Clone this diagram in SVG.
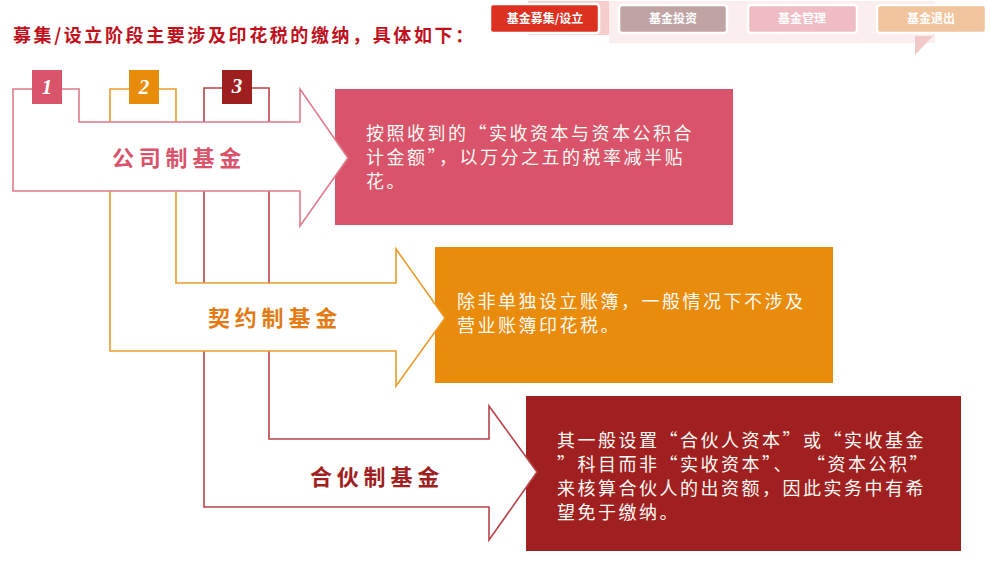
<svg xmlns="http://www.w3.org/2000/svg" width="990" height="575" viewBox="0 0 990 575">
<defs>
<style>
.nav{font-family:"Noto Sans CJK SC",sans-serif;font-size:12px;font-weight:700;fill:#ffffff;text-anchor:middle;}
.navbtn{stroke:#ffffff;stroke-width:2.5;}
.body{font-family:"Noto Sans CJK SC",sans-serif;font-size:18px;fill:#fffaf4;letter-spacing:2.5px;}
.label{font-family:"Noto Sans CJK SC",sans-serif;font-size:22px;font-weight:700;letter-spacing:4.8px;}
.arrow{fill:#ffffff;stroke-width:1.6;}
.num{font-family:"Liberation Serif",serif;font-size:21px;font-weight:700;font-style:italic;fill:#ffffff;text-anchor:middle;}
</style>
</defs>
<rect width="990" height="575" fill="#ffffff"/>

<!-- top navigation -->
<g id="nav">
<rect x="609" y="1" width="326" height="42" fill="#fbeeee"/>
<rect x="528" y="1" width="81" height="34" fill="#f4cccc"/>
<polygon points="915,36 933,36 915,55" fill="#f2c8c8"/>
<rect class="navbtn" x="490" y="4" width="109" height="29" rx="3" fill="#dc3020"/>
<text class="nav" x="545" y="23">基金募集/设立</text>
<rect class="navbtn" x="619" y="5" width="108" height="28" rx="3" fill="#c0a4a4"/>
<text class="nav" x="673" y="23">基金投资</text>
<rect class="navbtn" x="748" y="5" width="109" height="28" rx="3" fill="#f0bcc4"/>
<text class="nav" x="802" y="23">基金管理</text>
<rect class="navbtn" x="877" y="5" width="109" height="28" rx="3" fill="#f0c49c"/>
<text class="nav" x="931" y="23">基金退出</text>
</g>

<text id="title" x="13" y="42" font-family="Noto Sans CJK SC, sans-serif" font-size="18" font-weight="700" fill="#c0101c" letter-spacing="2.6">募集/设立阶段主要涉及印花税的缴纳，具体如下：</text>

<!-- description boxes -->
<g id="desc1">
<rect x="335" y="89" width="398" height="136" fill="#d9536b"/>
<text class="body" x="366" y="140">按照收到的“实收资本与资本公积合</text>
<text class="body" x="366" y="164">计金额”，以万分之五的税率减半贴</text>
<text class="body" x="366" y="188">花。</text>
</g>
<g id="desc2">
<rect x="435" y="247" width="398" height="136" fill="#e98b0b"/>
<text class="body" x="457" y="308">除非单独设立账簿，一般情况下不涉及</text>
<text class="body" x="457" y="332">营业账簿印花税。</text>
</g>
<g id="desc3">
<rect x="526" y="396" width="435" height="155" fill="#a01f20"/>
<text class="body" x="557" y="447">其一般设置“合伙人资本”或“实收基金</text>
<text class="body" x="557" y="471">”科目而非“实收资本”、</text>
<text class="body" x="807" y="471">“资本公积”</text>
<text class="body" x="557" y="495">来核算合伙人的出资额，因此实务中有希</text>
<text class="body" x="557" y="519">望免于缴纳。</text>
</g>

<!-- arrows -->
<g id="arrow3">
<path class="arrow" stroke="#b8434a" d="M204,88 H269 V439 H489 V406 L537,472 L489,540 V507 H204 Z"/>
<text class="label" x="310" y="485" fill="#a01f20">合伙制基金</text>
</g>
<g id="arrow2">
<path class="arrow" stroke="#ec9a2a" d="M110,89 H176 V283 H396 V249 L445,318 L396,386 V351 H110 Z"/>
<text class="label" x="208" y="326" fill="#e47a12">契约制基金</text>
</g>
<g id="arrow1">
<path class="arrow" stroke="#e07a8c" d="M13,89 H79 V122 H300 V89 L348,158 L300,226 V191 H13 Z"/>
<text class="label" x="112" y="166" fill="#d9536b">公司制基金</text>
</g>

<!-- number badges -->
<g id="badge1">
<rect x="32" y="70" width="30" height="34" fill="#d9536b"/>
<text class="num" x="47" y="94">1</text>
</g>
<g id="badge2">
<rect x="129" y="70" width="30" height="34" fill="#e98b0b"/>
<text class="num" x="144" y="94">2</text>
</g>
<g id="badge3">
<rect x="222" y="70" width="30" height="34" fill="#9e1f20"/>
<text class="num" x="237" y="93">3</text>
</g>
<g id="connectors"/>
</svg>
